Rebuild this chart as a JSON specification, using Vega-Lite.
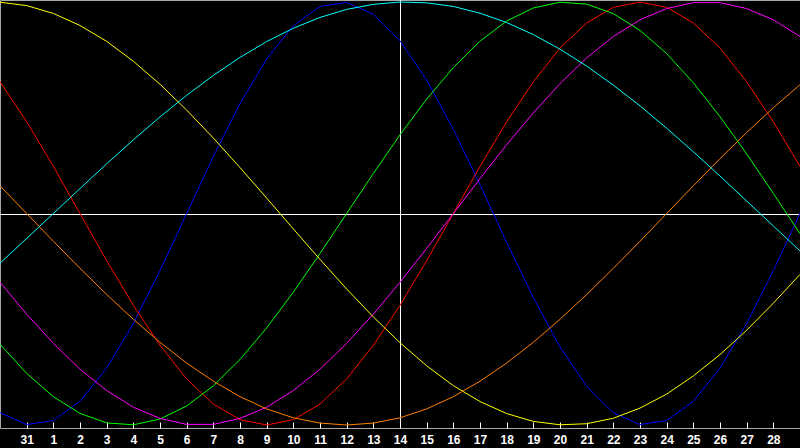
{
  "$schema": "https://vega.github.io/schema/vega-lite/v6.json",
  "width": 800,
  "height": 428,
  "autosize": "none",
  "padding": {"left": 0, "top": 0, "right": 0, "bottom": 20},
  "background": "black",
  "config": {
    "view": {"stroke": "#a8a8a8", "strokeWidth": 1},
    "axis": {"grid": false}
  },
  "data": {
    "values": [
      {"day": "30", "physical": -0.942, "emotional": 0.623, "intellectual": -0.618, "intuitive": -0.325, "aesthetic": 0.999, "awareness": 0.131, "spiritual": -0.235},
      {"day": "31", "physical": -0.998, "emotional": 0.434, "intellectual": -0.756, "intuitive": -0.476, "aesthetic": 0.983, "awareness": 0, "spiritual": -0.118},
      {"day": "1", "physical": -0.979, "emotional": 0.223, "intellectual": -0.866, "intuitive": -0.614, "aesthetic": 0.946, "awareness": -0.131, "spiritual": 0},
      {"day": "2", "physical": -0.888, "emotional": 0, "intellectual": -0.945, "intuitive": -0.736, "aesthetic": 0.889, "awareness": -0.259, "spiritual": 0.118},
      {"day": "3", "physical": -0.731, "emotional": -0.223, "intellectual": -0.99, "intuitive": -0.837, "aesthetic": 0.814, "awareness": -0.383, "spiritual": 0.235},
      {"day": "4", "physical": -0.52, "emotional": -0.434, "intellectual": -0.999, "intuitive": -0.916, "aesthetic": 0.72, "awareness": -0.5, "spiritual": 0.348},
      {"day": "5", "physical": -0.27, "emotional": -0.623, "intellectual": -0.972, "intuitive": -0.969, "aesthetic": 0.611, "awareness": -0.609, "spiritual": 0.457},
      {"day": "6", "physical": 0, "emotional": -0.782, "intellectual": -0.91, "intuitive": -0.997, "aesthetic": 0.489, "awareness": -0.707, "spiritual": 0.559},
      {"day": "7", "physical": 0.27, "emotional": -0.901, "intellectual": -0.815, "intuitive": -0.997, "aesthetic": 0.357, "awareness": -0.793, "spiritual": 0.653},
      {"day": "8", "physical": 0.52, "emotional": -0.975, "intellectual": -0.69, "intuitive": -0.969, "aesthetic": 0.217, "awareness": -0.866, "spiritual": 0.738},
      {"day": "9", "physical": 0.731, "emotional": -1, "intellectual": -0.541, "intuitive": -0.916, "aesthetic": 0.073, "awareness": -0.924, "spiritual": 0.813},
      {"day": "10", "physical": 0.888, "emotional": -0.975, "intellectual": -0.372, "intuitive": -0.837, "aesthetic": -0.073, "awareness": -0.966, "spiritual": 0.876},
      {"day": "11", "physical": 0.979, "emotional": -0.901, "intellectual": -0.189, "intuitive": -0.736, "aesthetic": -0.217, "awareness": -0.991, "spiritual": 0.927},
      {"day": "12", "physical": 0.998, "emotional": -0.782, "intellectual": 0, "intuitive": -0.614, "aesthetic": -0.357, "awareness": -1, "spiritual": 0.965},
      {"day": "13", "physical": 0.942, "emotional": -0.623, "intellectual": 0.189, "intuitive": -0.476, "aesthetic": -0.489, "awareness": -0.991, "spiritual": 0.989},
      {"day": "14", "physical": 0.817, "emotional": -0.434, "intellectual": 0.372, "intuitive": -0.325, "aesthetic": -0.611, "awareness": -0.966, "spiritual": 1},
      {"day": "15", "physical": 0.631, "emotional": -0.223, "intellectual": 0.541, "intuitive": -0.165, "aesthetic": -0.72, "awareness": -0.924, "spiritual": 0.996},
      {"day": "16", "physical": 0.398, "emotional": 0, "intellectual": 0.69, "intuitive": 0, "aesthetic": -0.814, "awareness": -0.866, "spiritual": 0.979},
      {"day": "17", "physical": 0.136, "emotional": 0.223, "intellectual": 0.815, "intuitive": 0.165, "aesthetic": -0.889, "awareness": -0.793, "spiritual": 0.947},
      {"day": "18", "physical": -0.136, "emotional": 0.434, "intellectual": 0.91, "intuitive": 0.325, "aesthetic": -0.946, "awareness": -0.707, "spiritual": 0.903},
      {"day": "19", "physical": -0.398, "emotional": 0.623, "intellectual": 0.972, "intuitive": 0.476, "aesthetic": -0.983, "awareness": -0.609, "spiritual": 0.846},
      {"day": "20", "physical": -0.631, "emotional": 0.782, "intellectual": 0.999, "intuitive": 0.614, "aesthetic": -0.999, "awareness": -0.5, "spiritual": 0.777},
      {"day": "21", "physical": -0.817, "emotional": 0.901, "intellectual": 0.99, "intuitive": 0.736, "aesthetic": -0.994, "awareness": -0.383, "spiritual": 0.697},
      {"day": "22", "physical": -0.942, "emotional": 0.975, "intellectual": 0.945, "intuitive": 0.837, "aesthetic": -0.968, "awareness": -0.259, "spiritual": 0.607},
      {"day": "23", "physical": -0.998, "emotional": 1, "intellectual": 0.866, "intuitive": 0.916, "aesthetic": -0.92, "awareness": -0.131, "spiritual": 0.509},
      {"day": "24", "physical": -0.979, "emotional": 0.975, "intellectual": 0.756, "intuitive": 0.969, "aesthetic": -0.854, "awareness": 0, "spiritual": 0.403},
      {"day": "25", "physical": -0.888, "emotional": 0.901, "intellectual": 0.618, "intuitive": 0.997, "aesthetic": -0.768, "awareness": 0.131, "spiritual": 0.292},
      {"day": "26", "physical": -0.731, "emotional": 0.782, "intellectual": 0.458, "intuitive": 0.997, "aesthetic": -0.667, "awareness": 0.259, "spiritual": 0.177},
      {"day": "27", "physical": -0.52, "emotional": 0.623, "intellectual": 0.282, "intuitive": 0.969, "aesthetic": -0.552, "awareness": 0.383, "spiritual": 0.059},
      {"day": "28", "physical": -0.27, "emotional": 0.434, "intellectual": 0.095, "intuitive": 0.916, "aesthetic": -0.424, "awareness": 0.5, "spiritual": -0.059},
      {"day": "29", "physical": 0, "emotional": 0.223, "intellectual": -0.095, "intuitive": 0.837, "aesthetic": -0.288, "awareness": 0.609, "spiritual": -0.177}
    ]
  },
  "encoding": {
    "x": {
      "field": "day",
      "type": "ordinal",
      "scale": {
        "type": "point",
        "padding": 0,
        "domain": ["30", "31", "1", "2", "3", "4", "5", "6", "7", "8", "9", "10", "11", "12", "13", "14", "15", "16", "17", "18", "19", "20", "21", "22", "23", "24", "25", "26", "27", "28", "29"]
      },
      "axis": {
        "title": null,
        "values": ["31", "1", "2", "3", "4", "5", "6", "7", "8", "9", "10", "11", "12", "13", "14", "15", "16", "17", "18", "19", "20", "21", "22", "23", "24", "25", "26", "27", "28"],
        "domain": false,
        "ticks": true,
        "tickColor": "white",
        "tickSize": -6,
        "labelPadding": 12,
        "labelAngle": 0,
        "labelColor": "white",
        "labelFont": "Liberation Sans",
        "labelFontWeight": "bold",
        "labelFontSize": 12
      }
    }
  },
  "layer": [
    {
      "mark": {"type": "rule", "color": "white", "strokeWidth": 1, "xOffset": 0.5},
      "encoding": {"x": {"datum": "14"}}
    },
    {
      "mark": {"type": "rule", "color": "white", "strokeWidth": 1, "yOffset": 1},
      "encoding": {
        "x": null,
        "y": {"datum": 0, "type": "quantitative", "scale": {"domain": [-1.0142, 1.0095], "nice": false, "zero": false}, "axis": null}
      }
    },
    {
      "transform": [
        {"fold": ["physical", "emotional", "intellectual", "intuitive", "aesthetic", "awareness", "spiritual"], "as": ["cycle", "value"]}
      ],
      "mark": {"type": "line", "strokeWidth": 1, "interpolate": "linear"},
      "encoding": {
        "y": {"field": "value", "type": "quantitative", "axis": null},
        "color": {
          "field": "cycle",
          "type": "nominal",
          "scale": {
            "domain": ["physical", "emotional", "intellectual", "intuitive", "aesthetic", "awareness", "spiritual"],
            "range": ["#0000ff", "#ff0000", "#00ff00", "#ff00ff", "#ffff00", "#ff8000", "#00ffff"]
          },
          "legend": null
        }
      }
    }
  ]
}
